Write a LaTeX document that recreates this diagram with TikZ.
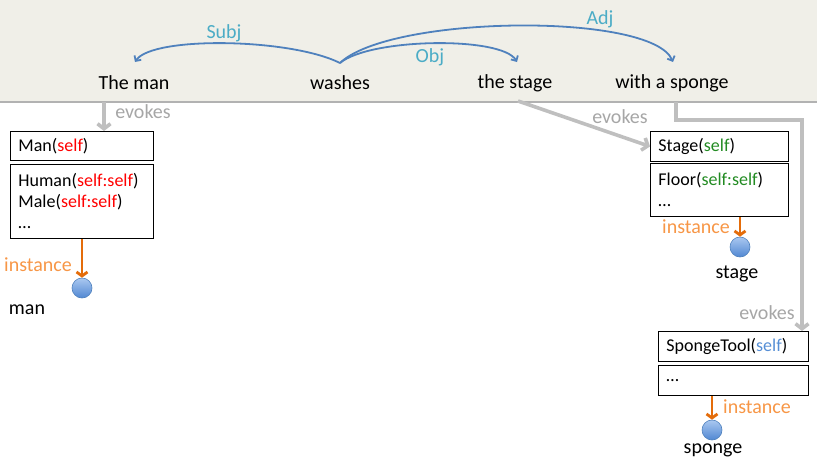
\documentclass[tikz,border=0pt]{standalone}
\usepackage{fontspec}
\setmainfont{Carlito}
\usetikzlibrary{arrows.meta}
\definecolor{band}{RGB}{240,239,232}
\definecolor{bandedge}{RGB}{178,178,178}
\definecolor{arcblue}{RGB}{79,129,189}
\definecolor{lblblue}{RGB}{75,172,198}
\definecolor{evkgray}{RGB}{191,191,191}
\definecolor{evktext}{RGB}{166,166,166}
\definecolor{insttext}{RGB}{247,150,70}
\definecolor{instline}{RGB}{228,108,10}
\definecolor{selfred}{RGB}{255,0,0}
\definecolor{selfgreen}{RGB}{34,139,34}
\definecolor{selfblue}{RGB}{85,142,213}
\definecolor{balltop}{RGB}{170,200,240}
\definecolor{ballbot}{RGB}{80,135,210}
\newcommand{\selfR}[1]{\textcolor{selfred}{#1}}
\newcommand{\selfG}[1]{\textcolor{selfgreen}{#1}}
\newcommand{\selfB}[1]{\textcolor{selfblue}{#1}}
\begin{document}
\begin{tikzpicture}[x=1pt,y=-1pt,
  word/.style={font=\fontsize{20}{24}\selectfont, text=black, inner sep=0pt},
  rel/.style={draw=arcblue, line width=1.8pt, -{Straight Barb[length=4pt,width=8pt]}},
  rellbl/.style={font=\fontsize{20}{24}\selectfont, text=lblblue, inner sep=0pt},
  evk/.style={draw=evkgray, line width=3.6pt, line join=miter, -{Straight Barb[length=5pt,width=13pt]}},
  evklbl/.style={font=\fontsize{20}{24}\selectfont, text=evktext, inner sep=0pt},
  inst/.style={draw=instline, line width=2.8pt, -{Straight Barb[length=4pt,width=11pt]}},
  instlbl/.style={font=\fontsize{20}{24}\selectfont, text=insttext, inner sep=0pt},
  frame/.style={draw=black, line width=0.9pt, anchor=north west, align=left,
    inner xsep=8pt, inner ysep=0pt, font=\fontsize{18}{21}\selectfont},
  ball/.style={circle, draw=arcblue, line width=0.6pt, minimum size=20pt, inner sep=0pt,
    top color=balltop, bottom color=ballbot},
  obj/.style={font=\fontsize{20}{24}\selectfont, text=black, inner sep=0pt}]
\useasboundingbox (0,0) rectangle (817,461);

% sentence band
\fill[band] (0,0) rectangle (817,102);
\draw[bandedge, line width=1.4pt] (0,102) -- (817,102);

% words of the sentence
\node[word] (w1) at (134,83) {The man};
\node[word] (w2) at (340,83) {washes};
\node[word] (w3) at (515,83) {the stage};
\node[word] (w4) at (672,83) {with a sponge};

% dependency arcs
\coordinate (hd) at (340,63);
\coordinate (a1) at (135,62);
\coordinate (a2) at (517,62);
\coordinate (a3) at (673,62);
\draw[rel] (hd) .. controls (290,38) and (152,36) .. (a1);
\draw[rel] (hd) .. controls (370,38) and (502,36) .. (a2);
\draw[rel] (hd) .. controls (390,15) and (652,12) .. (a3);
\node[rellbl] (lsubj) at (224,33) {Subj};
\node[rellbl] (lobj) at (430,57) {Obj};
\node[rellbl] (ladj) at (600,19) {Adj};

% frame boxes
\node[frame, minimum width=143pt, minimum height=29pt, text width=127pt] (man) at (10,131) {Man(\selfR{self})};
\node[frame, minimum width=143pt, minimum height=74pt, text width=127pt] (hum) at (10,164)
  {Human(\selfR{self:self})\\Male(\selfR{self:self})\\\dots};
\node[frame, minimum width=138pt, minimum height=30pt, text width=122pt] (stg) at (650,131) {Stage(\selfG{self})};
\node[frame, minimum width=138pt, minimum height=53pt, text width=122pt] (flr) at (650,163)
  {Floor(\selfG{self:self})\\\dots};
\node[frame, minimum width=150pt, minimum height=30pt, text width=134pt] (spt) at (658,331) {SpongeTool(\selfB{self})};
\node[frame, minimum width=150pt, minimum height=30pt, text width=134pt] (sdt) at (658,365) {\dots};

% evokes connectors
\coordinate (e1) at (104,102);
\draw[evk] (e1) -- (e1 |- man.north);
\node[evklbl] (le1) at (143,112) {evokes};
\coordinate (e2) at (518,101);
\draw[evk] (e2) -- (stg.west);
\node[evklbl] (le2) at (620,117) {evokes};
\coordinate (e3) at (676,102);
\coordinate (c3) at (802,120);
\draw[evk] (e3) |- (c3) -- (c3 |- spt.north);
\node[evklbl] (le3) at (767,313) {evokes};

% instances
\node[ball] (b1) at (82,288) {};
\draw[inst] (b1 |- hum.south) -- (b1.north);
\node[instlbl] (li1) at (38,265) {instance};
\node[obj] (o1) at (27,310) {man};

\node[ball] (b2) at (740,247) {};
\draw[inst] (b2 |- flr.south) -- (b2.north);
\node[instlbl] (li2) at (696,227) {instance};
\node[obj] (o2) at (737,274) {stage};

\node[ball] (b3) at (712,430) {};
\draw[inst] (b3 |- sdt.south) -- (b3.north);
\node[instlbl] (li3) at (757,407) {instance};
\node[obj] (o3) at (713,450) {sponge};
\end{tikzpicture}
\end{document}
